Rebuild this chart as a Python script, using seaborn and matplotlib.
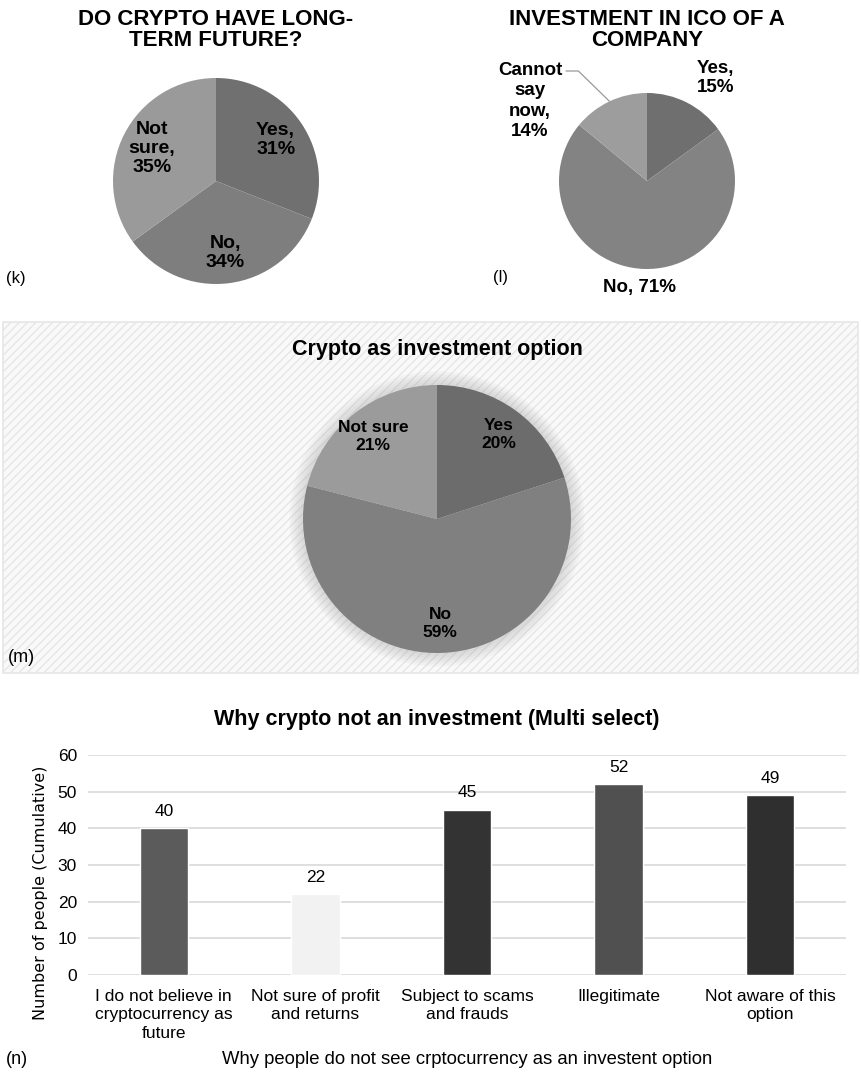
import matplotlib
matplotlib.use("Agg")
import matplotlib.pyplot as plt
import matplotlib.patches as mpatches
import numpy as np
import pandas as pd
import seaborn as sns

# ── Data ──────────────────────────────────────────────────────────────────────
future_labels = ["Yes,\n31%", "No,\n34%", "Not\nsure,\n35%"]
future_values = [31, 34, 35]
future_colors = ["#707070", "#7e7e7e", "#9a9a9a"]

ico_labels = ["Yes,\n15%", "No, 71%", "Cannot\nsay\nnow,\n14%"]
ico_values = [15, 71, 14]
ico_colors = ["#6f6f6f", "#838383", "#9d9d9d"]

invest_labels = ["Yes\n20%", "No\n59%", "Not sure\n21%"]
invest_values = [20, 59, 21]
invest_colors = ["#6c6c6c", "#808080", "#9b9b9b"]

reasons = ["I do not believe in\ncryptocurrency as\nfuture",
           "Not sure of profit\nand returns",
           "Subject to scams\nand frauds",
           "Illegitimate",
           "Not aware of this\noption"]
reason_counts = [40, 22, 45, 52, 49]
reason_colors = ["#5b5b5b", "#f2f2f2", "#333333", "#505050", "#2f2f2f"]

# ── Style ─────────────────────────────────────────────────────────────────────
sns.set_style("white")
plt.rcParams["font.family"] = ["Liberation Sans", "DejaVu Sans"]
plt.rcParams["text.color"] = "black"
plt.rcParams["xtick.color"] = "black"
plt.rcParams["ytick.color"] = "black"

W, H = 861, 1073
fig = plt.figure(figsize=(W / 100, H / 100), dpi=100)


def px_axes(cx, cy, r):
    """square axes (in pixels) around a pie centre"""
    return fig.add_axes([(cx - r) / W, 1 - (cy + r) / H, 2 * r / W, 2 * r / H])


def mid_angle(values, i):
    fr = np.cumsum([0] + list(values)) / sum(values) * 360
    return np.deg2rad(90 - (fr[i] + fr[i + 1]) / 2)


# ── (k) Long-term future ─────────────────────────────────────────────────────
ax = px_axes(216, 181, 103)
ax.pie(future_values, colors=future_colors, startangle=90, counterclock=False,
       radius=1, wedgeprops=dict(linewidth=0))
for i, lab in enumerate(future_labels):
    a = mid_angle(future_values, i)
    ax.text(0.70 * np.cos(a), 0.70 * np.sin(a), lab, ha="center", va="center",
            fontsize=14, fontweight="bold", linespacing=1.15)
ax.set_xlim(-1, 1); ax.set_ylim(-1, 1)
fig.text(216 / W, 1 - 30 / H, "DO CRYPTO HAVE LONG-\nTERM FUTURE?", ha="center",
         va="center", fontsize=16, fontweight="bold", linespacing=1.0)
fig.text(6 / W, 1 - 279 / H, "(k)", ha="left", va="center", fontsize=12)

# ── (l) ICO investment ───────────────────────────────────────────────────────
ax = px_axes(647, 181, 88)
ax.pie(ico_values, colors=ico_colors, startangle=90, counterclock=False,
       radius=1, wedgeprops=dict(linewidth=0))
ax.set_xlim(-1, 1); ax.set_ylim(-1, 1)
ax.text(0.78, 1.17, ico_labels[0], ha="center", va="center", fontsize=13.5,
        fontweight="bold", linespacing=1.2)
ax.text(-0.08, -1.21, ico_labels[1], ha="center", va="center", fontsize=13.5,
        fontweight="bold")
ax.text(-1.33, 0.91, ico_labels[2], ha="center", va="center", fontsize=13.5,
        fontweight="bold", linespacing=1.25)
a = mid_angle(ico_values, 2)
ax.plot([-0.92, -0.78, np.cos(a)], [1.25, 1.25, np.sin(a)], color="#9a9a9a",
        linewidth=0.9, clip_on=False)
fig.text(647 / W, 1 - 30 / H, "INVESTMENT IN ICO OF A\nCOMPANY", ha="center",
         va="center", fontsize=16, fontweight="bold", linespacing=1.0)
fig.text(493 / W, 1 - 278 / H, "(l)", ha="left", va="center", fontsize=12)

# ── (m) Crypto as investment option ──────────────────────────────────────────
panel = mpatches.Rectangle((3 / W, 1 - 673 / H), 855 / W, 351 / H,
                           transform=fig.transFigure, facecolor="#f9f9f9",
                           edgecolor="#e6e6e6", hatch="////", linewidth=1.2,
                           zorder=-5)
fig.patches.append(panel)
ax = px_axes(437, 519, 134)
ax.set_zorder(2)
# soft glow behind the pie
for k, r in enumerate(np.linspace(1.10, 1.0, 6)):
    ax.add_patch(mpatches.Circle((0, 0), r, color="#9a9a9a", alpha=0.07,
                                 linewidth=0, clip_on=False))
ax.pie(invest_values, colors=invest_colors, startangle=90, counterclock=False,
       radius=1, wedgeprops=dict(linewidth=0))
for i, lab in enumerate(invest_labels):
    a = mid_angle(invest_values, i)
    ax.text(0.78 * np.cos(a), 0.78 * np.sin(a), lab, ha="center", va="center",
            fontsize=12.5, fontweight="bold", linespacing=1.3)
ax.set_xlim(-1, 1); ax.set_ylim(-1, 1)
fig.text(437 / W, 1 - 350 / H, "Crypto as investment option", ha="center",
         va="center", fontsize=15.5, fontweight="bold")
fig.text(8 / W, 1 - 657 / H, "(m)", ha="left", va="center", fontsize=13)

# ── (n) Why crypto not an investment ─────────────────────────────────────────
df = pd.DataFrame({"reason": reasons, "count": reason_counts})
ax = fig.add_axes([88 / W, 1 - 975 / H, 758 / W, 220 / H])
sns.barplot(data=df, x="reason", y="count", hue="reason", palette=reason_colors,
            width=0.32, legend=False, ax=ax, saturation=1, zorder=3)
for c in ax.containers:
    ax.bar_label(c, padding=7, fontsize=12.5)
ax.set_ylim(0, 60)
ax.set_xlim(-0.5, 4.5)
ax.set_yticks(range(0, 61, 10))
ax.grid(axis="y", color="#d9d9d9", linewidth=1.2, zorder=0)
ax.set_axisbelow(True)
sns.despine(ax=ax, left=True, top=True, right=True, bottom=True)
ax.tick_params(axis="both", length=0, labelsize=12.5, pad=8)
ax.tick_params(axis="x", pad=10)
for t in ax.get_xticklabels():
    t.set_linespacing(1.3)
ax.set_xlabel("")
ax.set_ylabel("")
fig.text(437 / W, 1 - 720 / H, "Why crypto not an investment (Multi select)",
         ha="center", va="center", fontsize=15.5, fontweight="bold")
fig.text(41 / W, 1 - 893 / H, "Number of people (Cumulative)", rotation=90,
         ha="center", va="center", fontsize=11.5, family="DejaVu Sans")
fig.text(467 / W, 1 - 1059 / H, "Why people do not see crptocurrency as an investent option",
         ha="center", va="center", fontsize=13.3)
fig.text(6 / W, 1 - 1059 / H, "(n)", ha="left", va="center", fontsize=13)

plt.savefig("out.png", dpi=100)
print("Saved -> out.png")
